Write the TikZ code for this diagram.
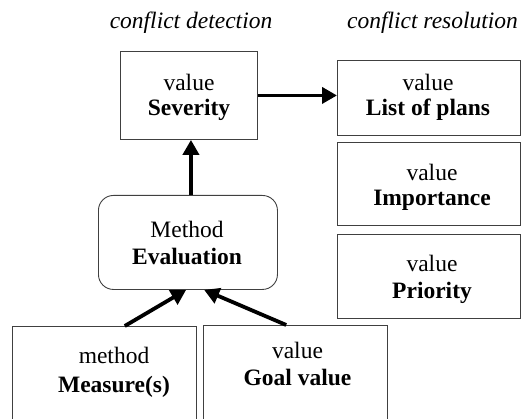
\documentclass[tikz,border=0pt]{standalone}
\usepackage{fontspec}
\setmainfont{Liberation Serif}
\usetikzlibrary{arrows.meta,calc}
\begin{document}
\begin{tikzpicture}[x=1pt,y=-1pt,
 box/.style={draw=black!75,line width=0.9pt,inner sep=0pt,anchor=north west},
 txt/.style={anchor=base,inner sep=0pt,font=\fontsize{23.5}{25}\selectfont},
 btxt/.style={anchor=base,inner sep=0pt,font=\fontsize{23.5}{25}\selectfont\bfseries},
 itxt/.style={anchor=base,inner sep=0pt,font=\fontsize{23.5}{25}\selectfont\itshape},
 arr/.style={line width=3.8pt,-{Triangle[length=15pt,width=16pt]}}]
\path[use as bounding box] (0,0) rectangle (529,419);
\clip (0,0) rectangle (529,419);
% titles
\node[itxt] (cd) at (191,29) {conflict detection};
\node[itxt] (cr) at (432.5,29) {conflict resolution};
% boxes
\node[box,minimum width=137pt,minimum height=88pt] (sev) at (120,51) {};
\node[box,minimum width=183pt,minimum height=75pt] (list) at (337,60) {};
\node[box,minimum width=183pt,minimum height=83pt] (imp) at (337,142) {};
\node[box,minimum width=183pt,minimum height=84pt] (pri) at (337,234) {};
\node[box,rounded corners=15pt,minimum width=179pt,minimum height=94pt] (eval) at (98,195) {};
\node[box,minimum width=184pt,minimum height=110pt] (meas) at (12,326) {};
\node[box,minimum width=184pt,minimum height=110pt] (goal) at (203,325) {};
% texts
\node[txt] (sev1) at (189,91) {value};
\node[btxt] (sev2) at (189,116) {Severity};
\node[txt] (list1) at (428,91) {value};
\node[btxt] (list2) at (428,116) {List of plans};
\node[txt] (imp1) at (432,181) {value};
\node[btxt] (imp2) at (432,206) {Importance};
\node[txt] (pri1) at (432,271) {value};
\node[btxt] (pri2) at (432,298) {Priority};
\node[txt] (eval1) at (187,238) {Method};
\node[btxt] (eval2) at (187,264) {Evaluation};
\node[txt] (meas1) at (114,363) {method};
\node[btxt] (meas2) at (114,392) {Measure(s)};
\node[txt] (goal1) at (297.5,358) {value};
\node[btxt] (goal2) at (297.5,385) {Goal value};
% arrows
\draw[arr] (sev.east) -- (sev.east -| list.west);
\draw[arr] ($(eval.north)+(3,0)$) -- ($(eval.north |- sev.south)+(3,0)$);
\draw[arr] ($(meas.north west)!0.61!(meas.north east)$) -- ($(eval.south west)!0.49!(eval.south east)$);
\draw[arr] ($(goal.north west)!0.45!(goal.north east)$) -- ($(eval.south west)!0.59!(eval.south east)$);
\end{tikzpicture}
\end{document}
